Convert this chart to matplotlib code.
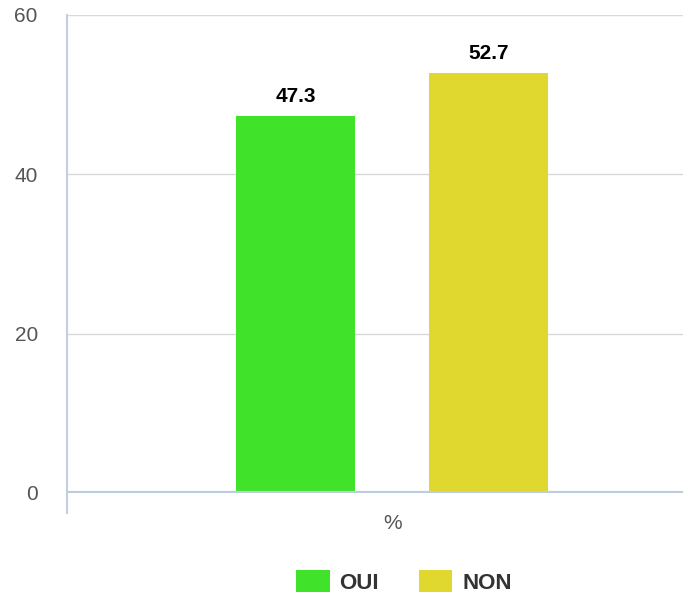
import matplotlib
matplotlib.use("Agg")
import matplotlib.pyplot as plt
from matplotlib.lines import Line2D

plt.rcParams['font.family'] = ['Liberation Sans', 'DejaVu Sans']

categories = ["OUI", "NON"]
values = [47.3, 52.7]
colors = ["#41e22a", "#e0d82e"]
yticks = [0, 20, 40, 60]
xlabel = "%"

fig = plt.figure(figsize=(6.91, 5.99), dpi=100)
ax = fig.add_axes([67/691, 106/599, 616/691, 478/599])

x = list(range(len(categories)))
bars = ax.bar(x, values, width=0.615, color=colors, zorder=3, label=categories)
for xi, v in zip(x, values):
    ax.annotate(f"{v}", (xi, v), xytext=(0, 7), textcoords="offset points",
                ha="center", va="bottom", fontsize=15, fontweight="bold", color="black")

ax.set_xlim(-1.181, 2.003)
ax.set_ylim(0, 60)
ax.set_yticks(yticks)
ax.set_yticklabels([str(t) for t in yticks])
ax.set_xticks([0.5])
ax.set_xticklabels([xlabel])
ax.tick_params(axis="y", length=0, pad=21, labelsize=15, labelcolor="#555555")
ax.tick_params(axis="x", length=0, pad=15, labelsize=15, labelcolor="#555555")
ax.grid(axis="y", color="#d9d9d9", linewidth=1, zorder=0)

for s in ["top", "right", "bottom", "left"]:
    ax.spines[s].set_visible(False)
ax.axhline(0, color="#bccde0", linewidth=3, zorder=4)
# y axis line extends a little below zero
ax.add_line(Line2D([0, 0], [-20/478, 1.0], transform=ax.transAxes,
                   color="#c0d0e0", linewidth=1.5, clip_on=False, zorder=4))

leg = fig.legend(handles=list(bars), labels=categories, loc="center",
                 bbox_to_anchor=(404/691, 1 - 582/599), ncol=2, frameon=False,
                 fontsize=16, handlelength=1.5, handleheight=1.15,
                 handletextpad=0.45, columnspacing=1.8)
for t in leg.get_texts():
    t.set_fontweight("bold")
    t.set_color("#333333")

fig.savefig("out.png", dpi=100)
